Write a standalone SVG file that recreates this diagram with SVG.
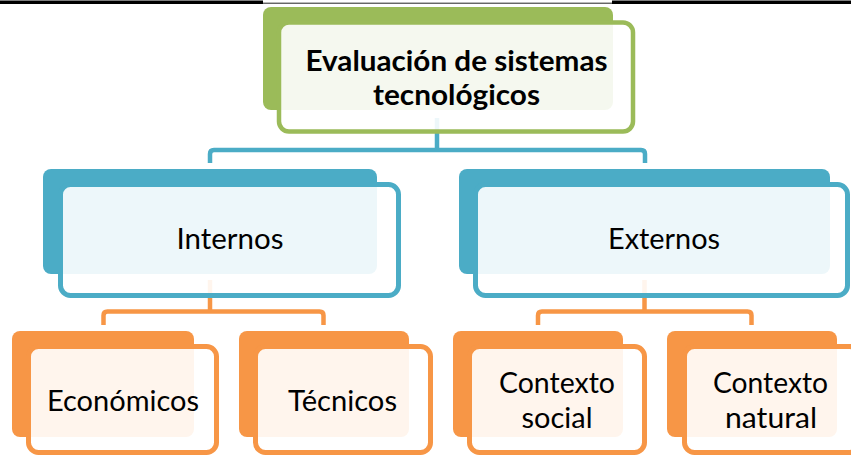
<svg xmlns="http://www.w3.org/2000/svg" width="851" height="456" viewBox="0 0 851 456">
<style>
.lbl{font-family:Lato,"Open Sans","Liberation Sans",sans-serif;font-size:28px;fill:#000;text-anchor:middle}
.ttl{font-family:Lato,"Open Sans","Liberation Sans",sans-serif;font-size:28px;font-weight:bold;fill:#000;text-anchor:middle}
.conn{fill:none;stroke-width:4.5;stroke-linejoin:round}
.g-back{fill:#9BBB59}
.g-front{fill:#FFFFFF;fill-opacity:0.9;stroke:#9BBB59;stroke-width:4.5}
.b-back{fill:#4BACC6}
.b-front{fill:#FFFFFF;fill-opacity:0.9;stroke:#4BACC6;stroke-width:5}
.o-back{fill:#F79646}
.o-front{fill:#FFFFFF;fill-opacity:0.9;stroke:#F79646;stroke-width:5}
</style>
<rect x="0" y="0.5" width="263" height="3.5" fill="#000"/>
<rect x="612" y="0.5" width="239" height="3.5" fill="#000"/>
<line x1="263" y1="3.2" x2="612" y2="3.2" stroke="#222" stroke-width="1"/>
<g id="connectors">
<path class="conn" stroke="#4BACC6" d="M437 118 V150 M210 163 V154 Q210 150 214 150 H641 Q645 150 645 154 V163"/>
<path class="conn" stroke="#F79646" d="M210 280 V311.5 M103.5 325 V315.5 Q103.5 311.5 107.5 311.5 H319.5 Q323.5 311.5 323.5 315.5 V325"/>
<path class="conn" stroke="#F79646" d="M644.5 280 V311.5 M538 325 V315.5 Q538 311.5 542 311.5 H747.5 Q751.5 311.5 751.5 315.5 V325"/>
</g>
<g id="node-root">
<rect class="g-back" x="263" y="7" width="350" height="103" rx="8"/>
<rect class="g-front" x="279" y="22.5" width="354" height="109" rx="10"/>
<text class="ttl" x="456.5" y="71" textLength="302" lengthAdjust="spacingAndGlyphs">Evaluación de sistemas</text>
<text class="ttl" x="456.5" y="105" textLength="167" lengthAdjust="spacingAndGlyphs">tecnológicos</text>
</g>
<g id="node-internos">
<rect class="b-back" x="43" y="169" width="334" height="105" rx="8"/>
<rect class="b-front" x="60.5" y="184.5" width="338" height="111" rx="10"/>
<text class="lbl" x="230" y="249" textLength="107" lengthAdjust="spacingAndGlyphs">Internos</text>
</g>
<g id="node-externos">
<rect class="b-back" x="459" y="169" width="371" height="105" rx="8"/>
<rect class="b-front" x="475.5" y="184.5" width="372" height="111" rx="10"/>
<text class="lbl" x="664" y="249" textLength="112" lengthAdjust="spacingAndGlyphs">Externos</text>
</g>
<g id="node-economicos">
<rect class="o-back" x="12" y="331" width="182" height="106" rx="8"/>
<rect class="o-front" x="28.5" y="346.5" width="188" height="106" rx="10"/>
<text class="lbl" x="123" y="411" textLength="152" lengthAdjust="spacingAndGlyphs">Económicos</text>
</g>
<g id="node-tecnicos">
<rect class="o-back" x="239" y="331" width="170" height="106" rx="8"/>
<rect class="o-front" x="255.5" y="346.5" width="175" height="106" rx="10"/>
<text class="lbl" x="342.5" y="411" textLength="109" lengthAdjust="spacingAndGlyphs">Técnicos</text>
</g>
<g id="node-social">
<rect class="o-back" x="453" y="331" width="170" height="106" rx="8"/>
<rect class="o-front" x="469.5" y="346.5" width="175" height="106" rx="10"/>
<text class="lbl" x="557" y="393" textLength="116" lengthAdjust="spacingAndGlyphs">Contexto</text>
<text class="lbl" x="557" y="428" textLength="71" lengthAdjust="spacingAndGlyphs">social</text>
</g>
<g id="node-natural">
<rect class="o-back" x="667" y="331" width="170" height="106" rx="8"/>
<rect class="o-front" x="684.5" y="346.5" width="175" height="106" rx="10"/>
<text class="lbl" x="770.5" y="393" textLength="115" lengthAdjust="spacingAndGlyphs">Contexto</text>
<text class="lbl" x="771" y="428" textLength="92" lengthAdjust="spacingAndGlyphs">natural</text>
</g>
</svg>
